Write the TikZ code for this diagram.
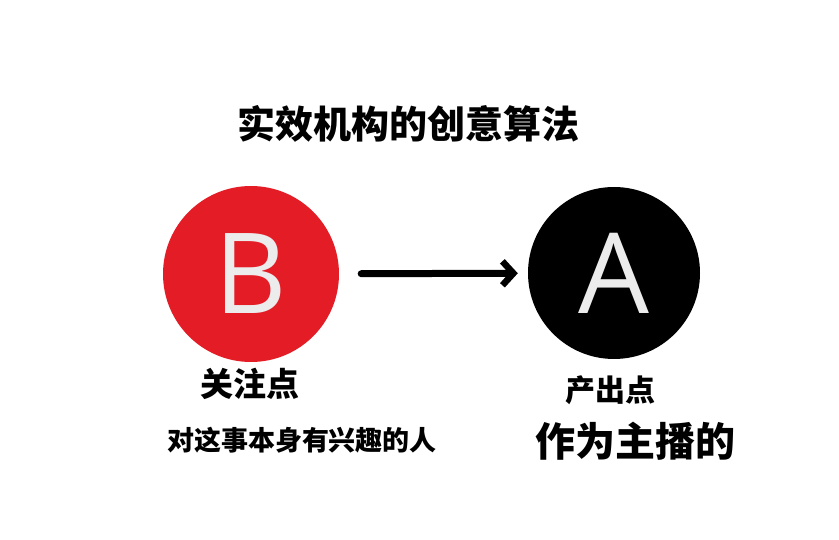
\documentclass[tikz,border=0pt]{standalone}
\usepackage{fontspec}
\newfontfamily\cjk{Noto Sans CJK SC}
\setsansfont{Open Sans}
\usetikzlibrary{arrows.meta}
\definecolor{inkred}{RGB}{228,28,38}
\definecolor{inkwhite}{RGB}{236,236,236}
\tikzset{
  ball/.style={circle, minimum size=176pt, inner sep=0pt, text=inkwhite,
    font=\sffamily\fontsize{112}{112}\selectfont},
  hand/.style={text=black, inner sep=0pt},
  flow/.style={line width=7pt, line cap=round, -{Straight Barb[length=11pt,width=24pt,line width=6.5pt]}}
}
\begin{document}
\begin{tikzpicture}[x=1pt,y=-1pt]
\useasboundingbox[fill=white] (0,0) rectangle (839,540);
\node[hand, font=\cjk\bfseries\fontsize{38}{38}\selectfont] (title) at (408,124) {实效机构的创意算法};
\node[ball, fill=inkred] (B) at (251,274) {B};
\node[ball, fill=black, minimum size=172pt] (A) at (614,273) {A};
\draw[flow, shorten <=22pt, shorten >=10pt] (B) -- (A);
\node[hand, font=\cjk\bfseries\fontsize{33}{33}\selectfont] (bfocus) at (250,384) {关注点};
\node[hand, font=\cjk\bfseries\fontsize{27}{27}\selectfont] (bwho) at (302,440) {对这事本身有兴趣的人};
\node[hand, font=\cjk\bfseries\fontsize{30}{30}\selectfont] (aout) at (610,390) {产出点};
\node[hand, font=\cjk\bfseries\fontsize{40}{40}\selectfont] (awho) at (635,441) {作为主播的};
\end{tikzpicture}
\end{document}
